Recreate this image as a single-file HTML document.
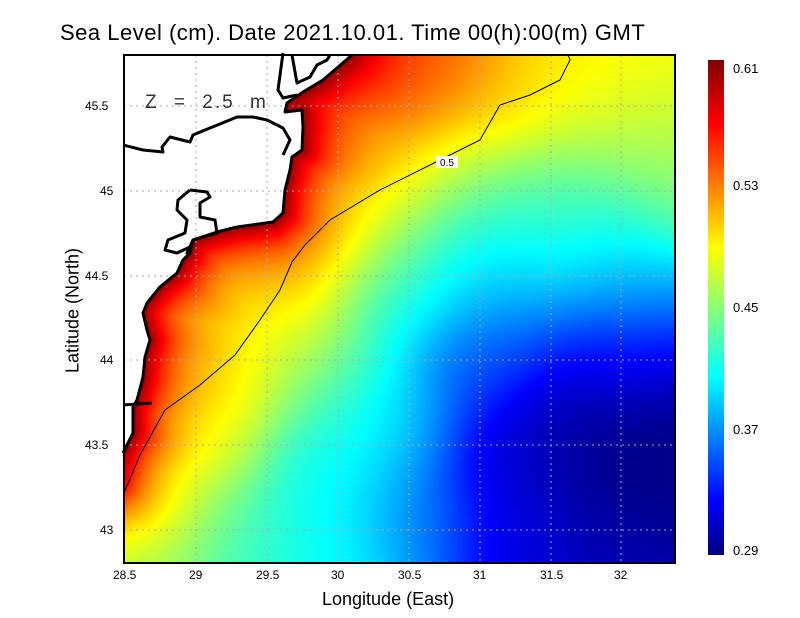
<!DOCTYPE html>
<html><head><meta charset="utf-8"><style>
body{margin:0;background:#fff;width:800px;height:618px;overflow:hidden;position:relative;font-family:"Liberation Sans",sans-serif}
.t{position:absolute;white-space:nowrap}
</style></head><body>
<canvas id="c" width="551" height="508" style="position:absolute;left:124px;top:55px"></canvas>
<svg width="800" height="618" style="position:absolute;left:0;top:0">
<defs><linearGradient id="jet" x1="0" y1="1" x2="0" y2="0">
<stop offset="0" stop-color="#000080"/><stop offset="0.11" stop-color="#0000ff"/><stop offset="0.36" stop-color="#00ffff"/><stop offset="0.62" stop-color="#ffff00"/><stop offset="0.87" stop-color="#ff0000"/><stop offset="1" stop-color="#800000"/></linearGradient></defs>
<polygon fill="#fff" points="124,55 352,55 337,68 323,80 303,92 287,103 285,112 302,110 303,127 302,150 292,157 290,170 285,190 283,213 273,222 237,227 217,232 193,240 190,253 183,260 177,273 160,287 147,303 143,313 147,330 150,340 145,357 143,377 137,400 133,407 133,433 123,453 124,465"/>
<g stroke="#aaa" stroke-dasharray="2,4" stroke-width="1">
<line x1="196" y1="55" x2="196" y2="563"/><line x1="267" y1="55" x2="267" y2="563"/><line x1="338" y1="55" x2="338" y2="563"/><line x1="409" y1="55" x2="409" y2="563"/><line x1="480" y1="55" x2="480" y2="563"/><line x1="551" y1="55" x2="551" y2="563"/><line x1="621" y1="55" x2="621" y2="563"/>
<line x1="124" y1="106" x2="675" y2="106"/><line x1="124" y1="191" x2="675" y2="191"/><line x1="124" y1="276" x2="675" y2="276"/><line x1="124" y1="360" x2="675" y2="360"/><line x1="124" y1="445" x2="675" y2="445"/><line x1="124" y1="530" x2="675" y2="530"/></g>
<g fill="none" stroke="#000" stroke-width="3" stroke-linejoin="round">
<polyline points="352,55 337,68 323,80 303,92 287,103 285,112 302,110 303,127 302,150 292,157 290,170 285,190 283,213 273,222 237,227 217,232 193,240 190,253 183,260 177,273 160,287 147,303 143,313 147,330 150,340 145,357 143,377 137,400 133,407 133,433 123,453"/>
<polyline points="123,145 143,150 163,152 162,147 170,137 190,142 193,135 210,128 237,117 253,117 267,120 283,128 290,140 283,155"/>
<polyline points="283,53 278,90 283,98 297,95"/>
<polyline points="292,55 297,83 310,77 317,65 327,60 330,55"/>
<polyline points="190,190 178,200 177,210 187,220 185,233 168,240 165,250 177,253 190,247 187,253 193,240 217,233 215,220 200,217 200,203 210,197 207,192 190,190"/>
<polyline points="152,403 123,405"/>
</g>
<polyline fill="none" stroke="#000" stroke-width="1" points="124,493 140,455 165,410 200,385 235,355 260,320 280,290 292,262 305,245 330,220 380,190 440,160 480,140 500,105 530,95 560,80 570,60 568,55"/>
<rect x="436" y="156" width="22" height="12" fill="#fff"/>
<text x="447" y="166" font-size="10" text-anchor="middle" font-family="Liberation Sans">0.5</text>
<rect x="124" y="55" width="551" height="508" fill="none" stroke="#000" stroke-width="2"/>
<rect x="708" y="60" width="16" height="495" fill="url(#jet)"/>
</svg>
<div class="t" style="left:60px;top:20px;font-size:22px;letter-spacing:0.5px">Sea Level (cm). Date 2021.10.01. Time 00(h):00(m) GMT</div>
<div class="t" style="left:145px;top:92px;font-size:19px;color:#333;word-spacing:8px;letter-spacing:2px">Z = 2.5 m</div>
<div class="t" style="left:733px;top:61px;font-size:13px">0.61</div>
<div class="t" style="left:733px;top:178px;font-size:13px">0.53</div>
<div class="t" style="left:733px;top:300px;font-size:13px">0.45</div>
<div class="t" style="left:733px;top:422px;font-size:13px">0.37</div>
<div class="t" style="left:733px;top:543px;font-size:13px">0.29</div>
<div class="t" style="left:85px;top:99px;font-size:12px">45.5</div>
<div class="t" style="left:100px;top:184px;font-size:12px">45</div>
<div class="t" style="left:85px;top:269px;font-size:12px">44.5</div>
<div class="t" style="left:100px;top:353px;font-size:12px">44</div>
<div class="t" style="left:85px;top:438px;font-size:12px">43.5</div>
<div class="t" style="left:100px;top:523px;font-size:12px">43</div>
<div class="t" style="left:113px;top:568px;font-size:12px">28.5</div>
<div class="t" style="left:189px;top:568px;font-size:12px">29</div>
<div class="t" style="left:256px;top:568px;font-size:12px">29.5</div>
<div class="t" style="left:331px;top:568px;font-size:12px">30</div>
<div class="t" style="left:398px;top:568px;font-size:12px">30.5</div>
<div class="t" style="left:473px;top:568px;font-size:12px">31</div>
<div class="t" style="left:540px;top:568px;font-size:12px">31.5</div>
<div class="t" style="left:614px;top:568px;font-size:12px">32</div>
<div class="t" style="left:322px;top:589px;font-size:18px">Longitude (East)</div>
<div class="t" style="left:-2px;top:300px;font-size:18px;transform:rotate(-90deg);transform-origin:center;width:150px;text-align:center">Latitude (North)</div>
<script>
var P=[[124,493,.5],[165,410,.5],[200,385,.5],[260,320,.5],[290,265,.5],[330,220,.5],[440,160,.5],[500,105,.5],[565,60,.5],
[450,75,.535],[380,90,.535],[340,140,.52],[400,60,.55],[640,70,.49],[660,130,.47],[600,120,.48],[380,180,.49],
[480,190,.44],[580,190,.44],[660,180,.45],[480,230,.41],[600,230,.41],[480,280,.385],[620,280,.38],[480,360,.35],[620,360,.33],
[400,250,.45],[300,350,.46],[200,450,.46],[150,540,.45],[250,540,.43],[330,480,.41],[400,300,.41],[340,400,.43],[400,420,.39],[420,520,.37],
[500,460,.32],[560,450,.3],[640,440,.29],[640,500,.29],[520,540,.32],[620,550,.31],[330,560,.41]];
var C=[[352,55],[337,68],[323,80],[303,92],[287,103],[285,112],[302,110],[303,127],[302,150],[292,157],[290,170],[285,190],[283,213],[273,222],[237,227],[217,232],[193,240],[190,253],[183,260],[177,273],[160,287],[147,303],[143,313],[147,330],[150,340],[145,357],[143,377],[137,400],[133,407],[133,433],[123,453],[115,480]];
function segd(px,py,a,b){var dx=b[0]-a[0],dy=b[1]-a[1],l=dx*dx+dy*dy,t=((px-a[0])*dx+(py-a[1])*dy)/l;t=Math.max(0,Math.min(1,t));var ex=a[0]+t*dx-px,ey=a[1]+t*dy-py;return Math.sqrt(ex*ex+ey*ey);}
function jet(t){t=Math.max(0,Math.min(1,t));var r=Math.min(4*t-1.5,-4*t+4.5),g=Math.min(4*t-0.5,-4*t+3.5),b=Math.min(4*t+0.5,-4*t+2.5);
return [255*Math.max(0,Math.min(1,r)),255*Math.max(0,Math.min(1,g)),255*Math.max(0,Math.min(1,b))];}
var c=document.getElementById('c').getContext('2d'),W=551,H=508,im=c.createImageData(W,H),S2=2*45*45;
for(var y=0;y<H;y++)for(var x=0;x<W;x++){var X=x+124,Y=y+55,s=0,w=0;
for(var i=0;i<P.length;i++){var dx=X-P[i][0],dy=Y-P[i][1],q=Math.exp(-(dx*dx+dy*dy)/S2)+1e-12;s+=q*P[i][2];w+=q;}
var v=s/w,dc=1e9;for(var j=0;j<C.length-1;j++){var d=segd(X,Y,C[j],C[j+1]);if(d<dc)dc=d;}
v=v+(0.605-v)*Math.exp(-dc/32);
var col=jet((v-0.29)/0.32),k=(y*W+x)*4;im.data[k]=col[0];im.data[k+1]=col[1];im.data[k+2]=col[2];im.data[k+3]=255;}
c.putImageData(im,0,0);
</script>
</body></html>
